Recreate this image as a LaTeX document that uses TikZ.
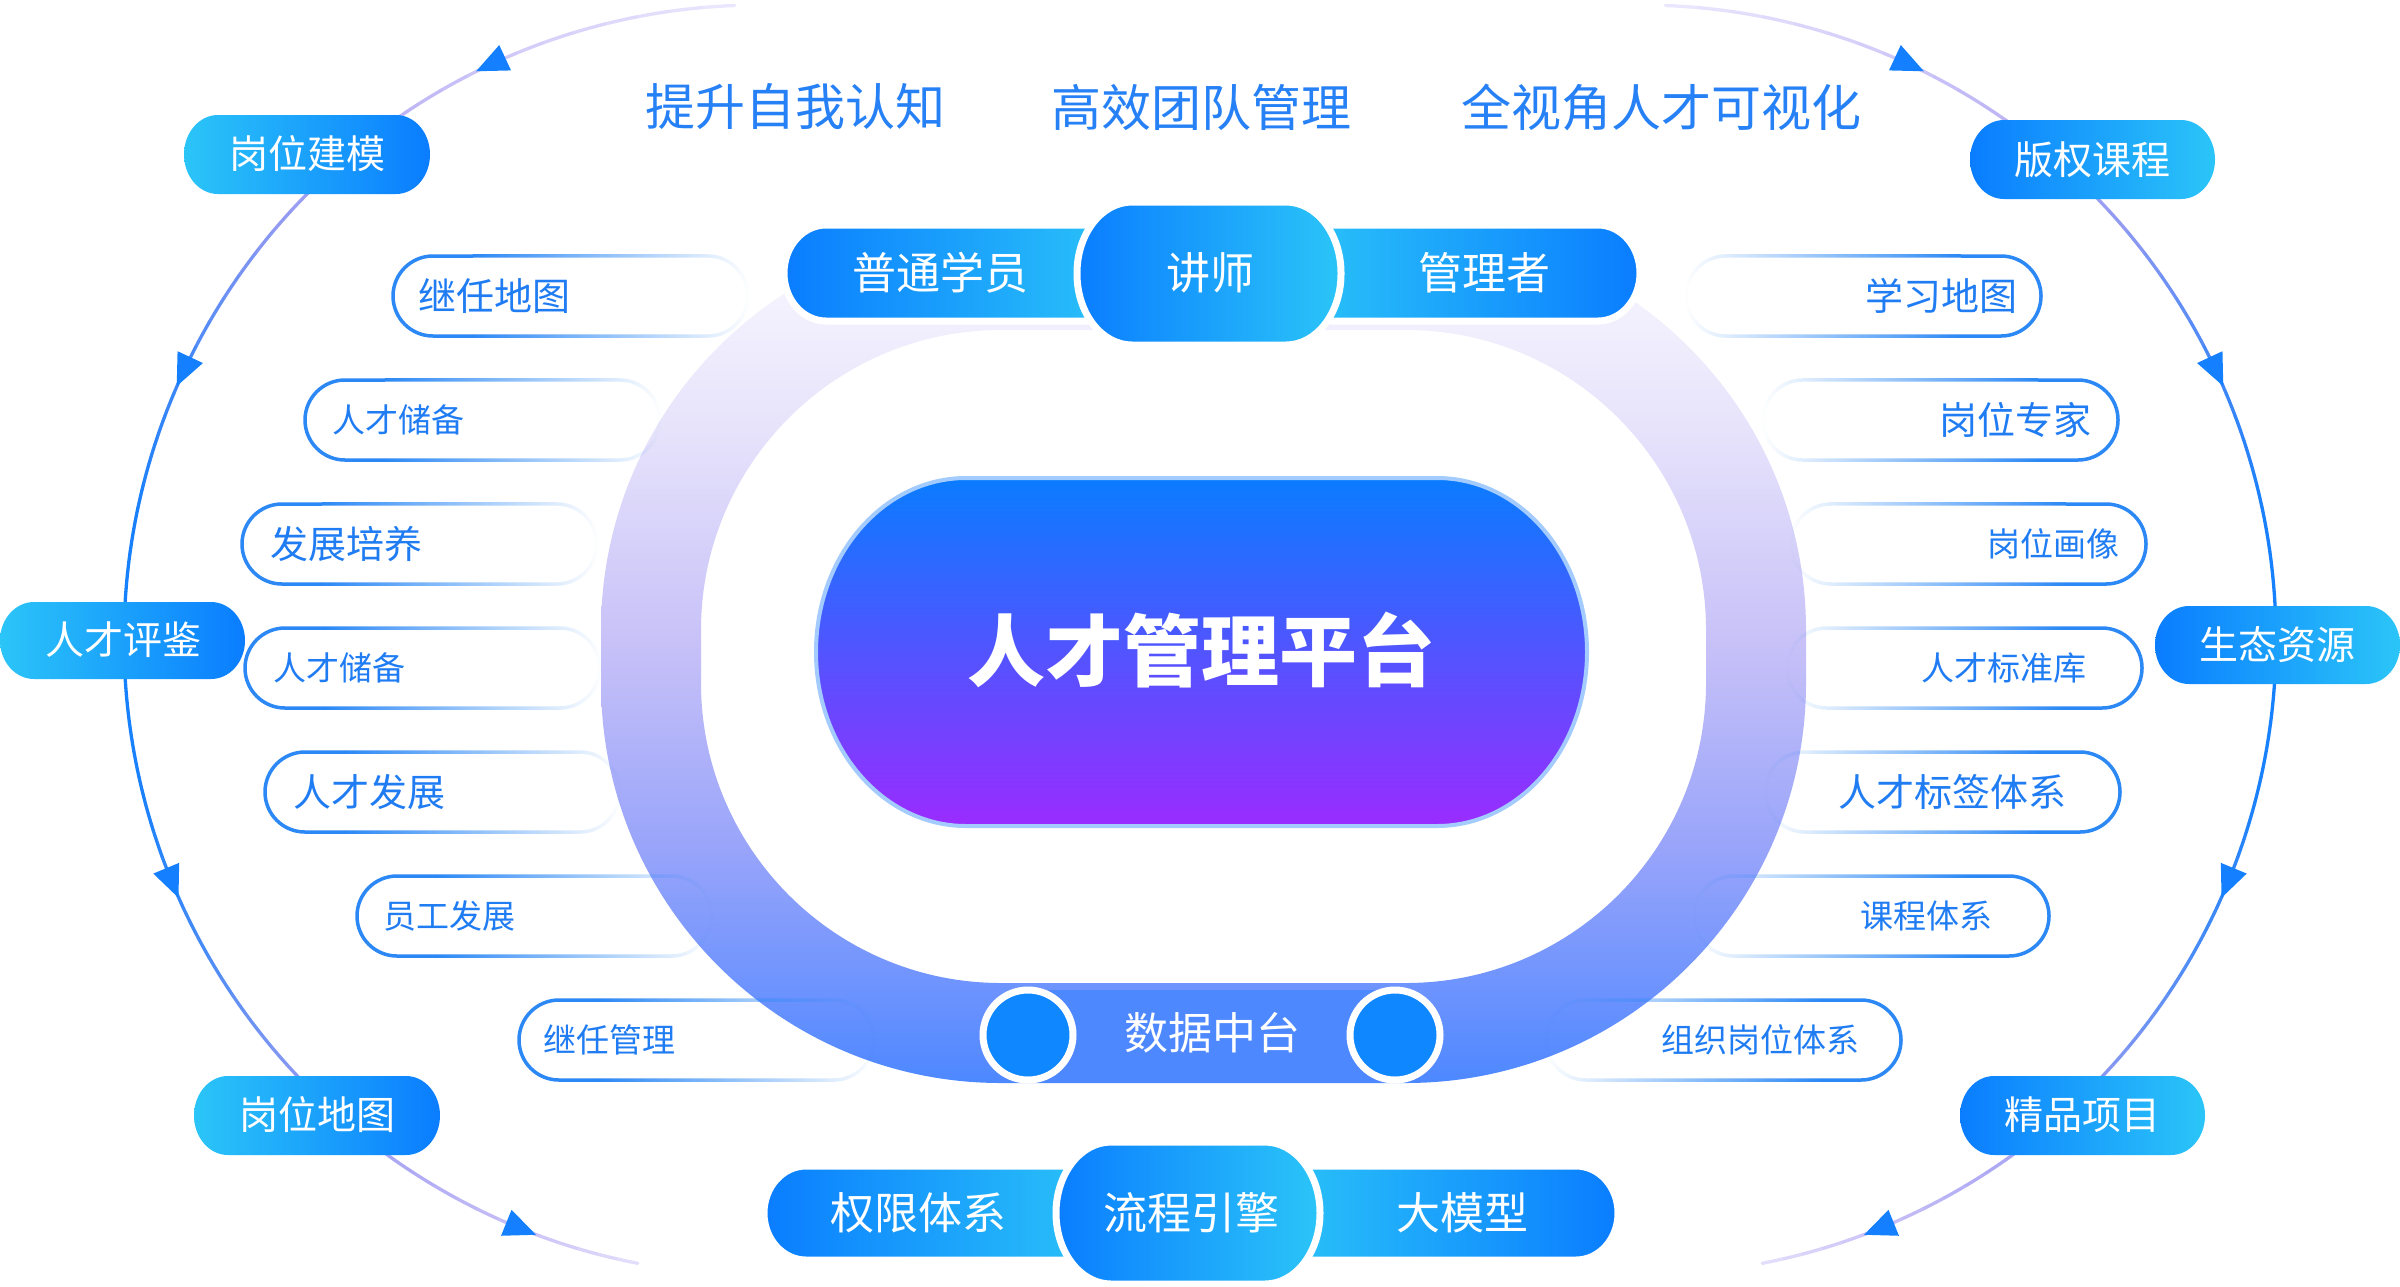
\documentclass[tikz,border=0pt]{standalone}
\usepackage{fontspec}
\newfontfamily\cjk{Noto Sans CJK SC}
\usetikzlibrary{fadings}

\definecolor{cyanA}{HTML}{2BC5F8}
\definecolor{blueA}{HTML}{0A7DFF}
\definecolor{txtBlue}{HTML}{2680F6}
\definecolor{sideBlue}{HTML}{2B88F5}
\definecolor{sideTxt}{HTML}{1F7CF3}
\definecolor{arrowBlue}{HTML}{1580FF}
\definecolor{barBlue}{HTML}{4E88FF}
\definecolor{dotBlue}{HTML}{0F87FF}
\definecolor{mainTop}{HTML}{0A7CFF}
\definecolor{mainMid}{HTML}{4A55FF}
\definecolor{mainBot}{HTML}{9A2CFF}
\definecolor{mainBorder}{HTML}{A3CBFD}
\definecolor{A0}{HTML}{ECE8FD}
\definecolor{A1}{HTML}{D6CFF9}
\definecolor{A2}{HTML}{BDB4F5}
\definecolor{A3}{HTML}{8F98F2}
\definecolor{A4}{HTML}{4388F7}
\definecolor{A5}{HTML}{1A80FB}
\definecolor{A6}{HTML}{1380FF}
\definecolor{A7}{HTML}{1B81FB}
\definecolor{A8}{HTML}{4B8CF6}
\definecolor{A9}{HTML}{8397F2}
\definecolor{A10}{HTML}{ABA7F3}
\definecolor{A11}{HTML}{C8C0F7}
\definecolor{A12}{HTML}{E4DFFB}

\pgfdeclareverticalshading{ringshade}{100bp}{%
  color(0bp)=(rgb,255:red,77;green,136;blue,255);
  color(25bp)=(rgb,255:red,77;green,136;blue,255);
  color(30bp)=(rgb,255:red,106;green,146;blue,254);
  color(38.7bp)=(rgb,255:red,152;green,164;blue,250);
  color(50.4bp)=(rgb,255:red,198;green,192;blue,248);
  color(63bp)=(rgb,255:red,230;green,226;blue,251);
  color(70bp)=(rgb,255:red,242;green,240;blue,253);
  color(75bp)=(rgb,255:red,249;green,248;blue,254);
  color(100bp)=(rgb,255:red,249;green,248;blue,254)}

\tikzfading[name=fadeR, left color=transparent!0, middle color=transparent!88, right color=transparent!100]
\tikzfading[name=fadeL, left color=transparent!100, middle color=transparent!88, right color=transparent!0]

% pill with elliptical corners: x0 y0 x1 y1 rx ry
\newcommand\epill[6]{%
({#1+#5},{#2}) -- ({#3-#5},{#2})
.. controls ({#3-#5+0.5523*#5},{#2}) and ({#3},{#2+#6-0.5523*#6}) .. ({#3},{#2+#6})
-- ({#3},{#4-#6})
.. controls ({#3},{#4-#6+0.5523*#6}) and ({#3-#5+0.5523*#5},{#4}) .. ({#3-#5},{#4})
-- ({#1+#5},{#4})
.. controls ({#1+#5-0.5523*#5},{#4}) and ({#1},{#4-#6+0.5523*#6}) .. ({#1},{#4-#6})
-- ({#1},{#2+#6})
.. controls ({#1},{#2+#6-0.5523*#6}) and ({#1+#5-0.5523*#5},{#2}) .. ({#1+#5},{#2})
-- cycle}

\tikzset{
  toptext/.style={font=\cjk\fontsize{50pt}{50pt}\selectfont, text=txtBlue, inner sep=0pt},
  roletext/.style={font=\cjk\fontsize{44pt}{44pt}\selectfont, text=white, inner sep=0pt},
  outertext/.style={font=\cjk\fontsize{39pt}{39pt}\selectfont, text=white, inner sep=0pt},
  sidebig/.style={font=\cjk\fontsize{38pt}{38pt}\selectfont, text=sideTxt, inner sep=0pt},
  sidesmall/.style={font=\cjk\fontsize{33pt}{33pt}\selectfont, text=sideTxt, inner sep=0pt},
  sideline/.style={draw=sideBlue, line width=3.5pt},
  arcline/.style={line width=3.3pt, line cap=round},
  rolepill/.style={draw=white, line width=7pt},
}

% left side item: name, x0, yc, style, text, padding
\newcommand\lpill[6]{%
  \draw[sideline] ({#2+80},{#3-40}) -- ({#2+40},{#3-40}) arc[start angle=90,end angle=270,radius=40pt] -- ({#2+80},{#3+40});
  \draw[sideline, path fading=fadeR] ({#2+80},{#3-40}) -- ({#2+315},{#3-40}) arc[start angle=90,end angle=-90,radius=40pt] -- ({#2+80},{#3+40});
  \node[#4, anchor=west] (#1) at ({#2+#6},{#3}) {#5};
}
% right side item: name, x1, yc, style, text, padding
\newcommand\rpill[6]{%
  \draw[sideline] ({#2-80},{#3-40}) -- ({#2-40},{#3-40}) arc[start angle=90,end angle=-90,radius=40pt] -- ({#2-80},{#3+40});
  \draw[sideline, path fading=fadeL] ({#2-80},{#3-40}) -- ({#2-315},{#3-40}) arc[start angle=90,end angle=270,radius=40pt] -- ({#2-80},{#3+40});
  \node[#4, anchor=east] (#1) at ({#2-#6},{#3}) {#5};
}

\begin{document}
\begin{tikzpicture}[x=1pt,y=-1pt]
\useasboundingbox (0,0) rectangle (2400,1286);
\fill[white] (0,0) rectangle (2400,1286);

% ---------- central ring ----------
\shade[even odd rule, shading=ringshade]
  [rounded corners=400pt] (601,230) rectangle (1806,1083)
  [rounded corners=300pt] (701,330) rectangle (1706,983);

% ---------- side items ----------
\lpill{l1}{393}{296}{sidebig}{继任地图}{25}
\lpill{l2}{305}{420}{sidesmall}{人才储备}{27}
\lpill{l3}{242}{544}{sidebig}{发展培养}{28}
\lpill{l4}{245}{668}{sidesmall}{人才储备}{28}
\lpill{l5}{265}{792}{sidebig}{人才发展}{28}
\lpill{l6}{357}{916}{sidesmall}{员工发展}{26}
\lpill{l7}{519}{1040}{sidesmall}{继任管理}{24}

\rpill{r1}{2041}{296}{sidebig}{学习地图}{23}
\rpill{r2}{2118}{420}{sidebig}{岗位专家}{26}
\rpill{r3}{2146}{544}{sidesmall}{岗位画像}{26}
\rpill{r4}{2142}{668}{sidesmall}{人才标准库}{55}
\rpill{r5}{2120}{792}{sidebig}{人才标签体系}{53}
\rpill{r6}{2049}{916}{sidesmall}{课程体系}{56}
\rpill{r7}{1901}{1040}{sidesmall}{组织岗位体系}{41}

% ---------- data bar ----------
\fill[barBlue] (1028,990) rectangle (1395,1078);
\filldraw[fill=dotBlue, draw=white, line width=7pt] (1028,1035) circle[radius=45pt];
\filldraw[fill=dotBlue, draw=white, line width=7pt] (1395,1035) circle[radius=45pt];
\node[roletext] (data) at (1212,1033) {数据中台};

% ---------- main platform ----------
\shadedraw[top color=mainTop, middle color=mainMid, bottom color=mainBot, draw=mainBorder, line width=4pt]
  \epill{816}{478}{1587}{826}{150}{174};
\node[font=\cjk\bfseries\fontsize{78pt}{78pt}\selectfont, text=white, inner sep=0pt] (main) at (1201,650) {人才管理平台};

% ---------- top role row ----------
\shadedraw[rolepill, left color=blueA, right color=cyanA] \epill{784}{225}{1130}{321}{42}{48};
\shadedraw[rolepill, left color=cyanA, right color=blueA] \epill{1290}{225}{1640}{321}{42}{48};
\shadedraw[rolepill, left color=blueA, right color=cyanA] \epill{1077}{202}{1341}{345}{55}{71};
\node[roletext] (stu) at (940,273) {普通学员};
\node[roletext] (lec) at (1210,273) {讲师};
\node[roletext] (mgr) at (1484,273) {管理者};

% ---------- bottom role row ----------
\shadedraw[rolepill, left color=blueA, right color=cyanA] \epill{764}{1166}{1110}{1260}{42}{47};
\shadedraw[rolepill, left color=cyanA, right color=blueA] \epill{1270}{1166}{1618}{1260}{42}{47};
\shadedraw[rolepill, left color=blueA, right color=cyanA] \epill{1056}{1142}{1320}{1284}{55}{71};
\node[roletext] (perm) at (918,1213) {权限体系};
\node[roletext] (flow) at (1191,1213) {流程引擎};
\node[roletext] (llm) at (1462,1213) {大模型};

% ---------- top texts ----------
\node[toptext] (t1) at (795,107) {提升自我认知};
\node[toptext] (t2) at (1201,107) {高效团队管理};
\node[toptext] (t3) at (1661,107) {全视角人才可视化};

% ---------- outer arcs ----------
\foreach \aa/\bb/\ca/\cb in {92.2/110/A0/A1,110/125/A1/A2,125/140/A2/A3,140/155/A3/A4,155/168/A4/A5,168/180/A5/A6,180/195/A6/A7,195/210/A7/A8,210/222/A8/A9,222/235/A9/A10,235/248/A10/A11,248/259/A11/A12}{
  \foreach \k in {0,...,5}{
    \pgfmathsetmacro\sa{\aa+(\bb-\aa)*\k/6}
    \pgfmathsetmacro\sb{\aa+(\bb-\aa)*(\k+1)/6}
    \pgfmathtruncatemacro\pp{100-(\k+0.5)*100/6}
    \draw[arcline, color=\ca!\pp!\cb] plot[domain=\sa:\sb, samples=5] ({759+635*cos(\x)},{640-635*sin(\x)});
    \draw[arcline, color=\ca!\pp!\cb] plot[domain=\sa:\sb, samples=5] ({1641-635*cos(\x)},{640-635*sin(\x)});
  }
}
% arrowheads
\foreach \a in {115,155,202.5,248}{
  \fill[arrowBlue]
    ({759+635*cos(\a)-16*sin(\a)},{640-635*sin(\a)-16*cos(\a)}) --
    ({759+635*cos(\a)+16*sin(\a)+14*cos(\a)},{640-635*sin(\a)+16*cos(\a)-14*sin(\a)}) --
    ({759+635*cos(\a)+16*sin(\a)-14*cos(\a)},{640-635*sin(\a)+16*cos(\a)+14*sin(\a)}) -- cycle;
  \fill[arrowBlue]
    ({1641-635*cos(\a)+16*sin(\a)},{640-635*sin(\a)-16*cos(\a)}) --
    ({1641-635*cos(\a)-16*sin(\a)-14*cos(\a)},{640-635*sin(\a)+16*cos(\a)-14*sin(\a)}) --
    ({1641-635*cos(\a)-16*sin(\a)+14*cos(\a)},{640-635*sin(\a)+16*cos(\a)+14*sin(\a)}) -- cycle;
}

% ---------- outer nodes ----------
\shade[left color=cyanA, right color=blueA] \epill{184}{115}{430}{194}{34}{39.5};
\shade[left color=cyanA, right color=blueA] \epill{0}{602}{245}{679}{34}{38.5};
\shade[left color=cyanA, right color=blueA] \epill{194}{1076}{440}{1155}{34}{39.5};
\shade[left color=blueA, right color=cyanA] \epill{1970}{120}{2215}{199}{34}{39.5};
\shade[left color=blueA, right color=cyanA] \epill{2155}{606}{2400}{684}{34}{39};
\shade[left color=blueA, right color=cyanA] \epill{1960}{1076}{2205}{1155}{34}{39.5};
\node[outertext] (o1) at (307,154) {岗位建模};
\node[outertext] (o2) at (123,640) {人才评鉴};
\node[outertext] (o3) at (317,1115) {岗位地图};
\node[outertext] (o4) at (2092,160) {版权课程};
\node[outertext] (o5) at (2277,645) {生态资源};
\node[outertext] (o6) at (2082,1115) {精品项目};
\end{tikzpicture}
\end{document}
